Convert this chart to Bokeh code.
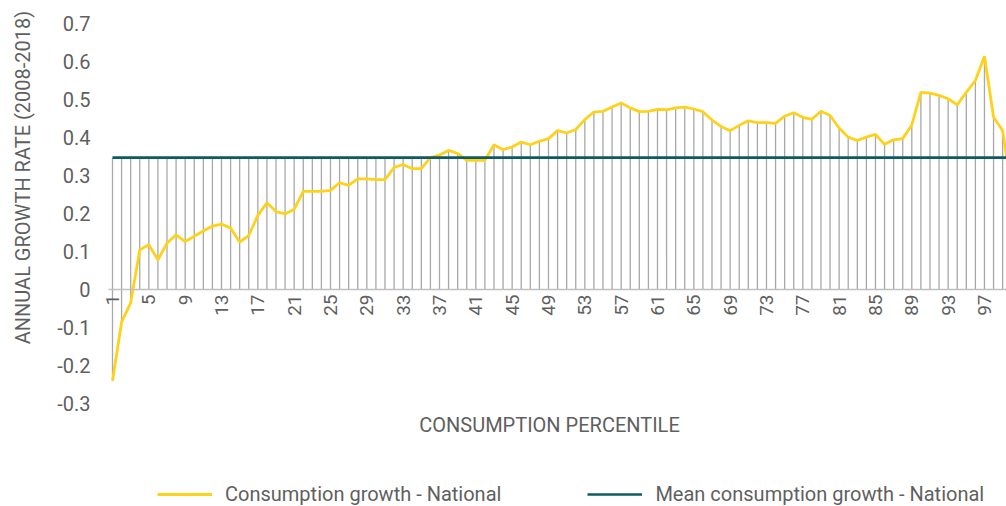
from math import pi
from bokeh.plotting import figure
from bokeh.models import Range1d, FixedTicker, Label, Legend, LegendItem, ColumnDataSource
from bokeh.embed import file_html
from bokeh.resources import INLINE

# ---- data ----
percentile = list(range(1, 101))
growth = [
    -0.240, -0.086, -0.035, 0.104, 0.118, 0.078, 0.122, 0.144, 0.126, 0.140,
    0.154, 0.167, 0.172, 0.162, 0.125, 0.142, 0.195, 0.228, 0.205, 0.199,
    0.211, 0.258, 0.258, 0.258, 0.261, 0.281, 0.274, 0.291, 0.291, 0.289,
    0.289, 0.321, 0.329, 0.318, 0.318, 0.347, 0.354, 0.366, 0.358, 0.340,
    0.340, 0.340, 0.381, 0.368, 0.375, 0.388, 0.381, 0.390, 0.397, 0.418,
    0.412, 0.421, 0.447, 0.467, 0.469, 0.480, 0.491, 0.478, 0.468, 0.469,
    0.474, 0.473, 0.478, 0.480, 0.475, 0.468, 0.446, 0.429, 0.418, 0.432,
    0.444, 0.439, 0.439, 0.437, 0.456, 0.465, 0.453, 0.448, 0.469, 0.458,
    0.425, 0.401, 0.392, 0.401, 0.408, 0.382, 0.394, 0.397, 0.433, 0.519,
    0.517, 0.511, 0.502, 0.486, 0.519, 0.550, 0.614, 0.454, 0.418, 0.260,
]
mean_growth = 0.347
mean_series = [mean_growth for _ in percentile]

x_ticks = [1, 5, 9, 13, 17, 21, 25, 29, 33, 37, 41, 45, 49, 53, 57, 61, 65, 69, 73, 77, 81, 85, 89, 93, 97]
y_ticks = [-0.3, -0.2, -0.1, 0.0, 0.1, 0.2, 0.3, 0.4, 0.5, 0.6, 0.7]
y_tick_labels = ["-0.3", "-0.2", "-0.1", "0", "0.1", "0.2", "0.3", "0.4", "0.5", "0.6", "0.7"]

series_names = ["Consumption growth - National", "Mean consumption growth - National"]
x_title = "CONSUMPTION PERCENTILE"
y_title = "ANNUAL GROWTH RATE (2008-2018)"

# ---- layout (pixels) ----
W, H = 1006, 506
PX_X = 9.083            # pixels per percentile
PX_Y = 380.0            # pixels per unit of growth
X0_PX = 112             # pixel of percentile 1
Y_TOP_PX = 23           # pixel of 0.7
Y_BOT_PX = 403          # pixel of -0.3

# ---- style ----
FONT = "Roboto"
TEXT = "#5f5f5f"
YELLOW = "#FFD21A"
TEAL = "#0E5A61"
GRAY = "#A8A8A8"

src = ColumnDataSource(dict(
    x=percentile,
    g=growth,
    m=mean_series,
    lo=[min(v, 0.0) for v in growth],
    hi=[max(v, m) for v, m in zip(growth, mean_series)],
))

x_start = 1 - X0_PX / PX_X
x_end = 1 + (W - X0_PX) / PX_X
y_end = 0.7 + Y_TOP_PX / PX_Y
y_start = -0.3 - (H - Y_BOT_PX) / PX_Y

p = figure(
    width=W, height=H,
    x_range=Range1d(x_start, x_end), y_range=Range1d(y_start, y_end),
    output_backend="svg", toolbar_location=None,
    min_border_left=0, min_border_right=0, min_border_top=0, min_border_bottom=0,
)
p.outline_line_color = None
p.grid.visible = False
p.background_fill_color = "white"
p.border_fill_color = "white"

# drop lines
p.segment(x0="x", y0="lo", x1="x", y1="hi", source=src, line_color=GRAY, line_width=1.3)

r_growth = p.line("x", "g", source=src, line_color=YELLOW, line_width=2.8)
r_mean = p.line("x", "m", source=src, line_color=TEAL, line_width=2.6)

# x axis crossing at y = 0
xa = p.xaxis[0]
xa.fixed_location = 0
xa.bounds = (0.55, x_end)
xa.ticker = FixedTicker(ticks=x_ticks)
xa.axis_line_color = "#BFBFBF"
xa.axis_line_width = 1.5
xa.major_tick_line_color = None
xa.minor_tick_line_color = None
xa.major_tick_out = 0
xa.minor_tick_out = 0
xa.major_label_orientation = pi / 2
xa.major_label_standoff = 5
xa.major_label_text_font = FONT
xa.major_label_text_font_size = "19px"
xa.major_label_text_color = TEXT

# y axis at percentile 1
ya = p.yaxis[0]
ya.fixed_location = 1
ya.ticker = FixedTicker(ticks=y_ticks)
ya.major_label_overrides = {t: l for t, l in zip(y_ticks, y_tick_labels)}
ya.axis_line_color = None
ya.major_tick_line_color = None
ya.minor_tick_line_color = None
ya.major_tick_out = 0
ya.minor_tick_out = 0
ya.major_label_standoff = 22
ya.major_label_text_font = FONT
ya.major_label_text_font_size = "20px"
ya.major_label_text_color = TEXT

p.add_layout(Label(x=549, y=H - 424, x_units="screen", y_units="screen", text=x_title,
                   text_align="center", text_baseline="middle",
                   text_font=FONT, text_font_size="20px", text_color=TEXT))
p.add_layout(Label(x=22, y=H - 177, x_units="screen", y_units="screen", text=y_title, angle=pi / 2,
                   text_align="center", text_baseline="middle",
                   text_font=FONT, text_font_size="20px", text_color=TEXT))

legend = Legend(items=[LegendItem(label=series_names[0], renderers=[r_growth]),
                       LegendItem(label=series_names[1], renderers=[r_mean])],
                orientation="horizontal", location=(157, 0))
legend.glyph_width = 55
legend.glyph_height = 20
legend.label_standoff = 13
legend.spacing = 86
legend.padding = 0
legend.margin = 0
legend.border_line_color = None
legend.background_fill_alpha = 0
legend.label_text_font = FONT
legend.label_text_font_size = "20px"
legend.label_text_color = TEXT
p.add_layout(legend, "center")

open("out.html", "w").write(file_html(p, INLINE))
